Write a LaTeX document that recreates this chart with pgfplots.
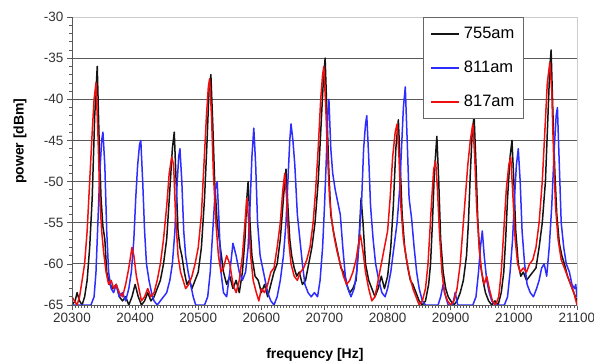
\documentclass[border=0pt]{standalone}
\usepackage{fontspec}
\setmainfont{Liberation Sans}
\usepackage{pgfplots}
\pgfplotsset{compat=1.18}
\definecolor{cblack}{RGB}{20,20,20}
\definecolor{cblue}{RGB}{45,45,255}
\definecolor{cred}{RGB}{240,15,15}
\begin{document}
\begin{tikzpicture}
\begin{axis}[
  at={(0,0)}, anchor=south west,
  scale only axis, width=505bp, height=288bp,
  xmin=20300, xmax=21100, ymin=-65, ymax=-30,
  xtick={20300,20400,...,21100},
  ytick={-65,-60,...,-30},
  scaled x ticks=false,
  minor x tick num=19,
  minor y tick num=4,
  xtick pos=bottom, ytick pos=left,
  tick align=outside,
  major tick length=5bp, minor tick length=2.5bp,
  every tick/.style={gray!70!black, line width=0.6bp},
  /pgf/number format/assume math mode=true,
  /pgf/number format/1000 sep={},
  tick label style={font=\fontsize{13.5bp}{15bp}\selectfont, text=black!80},
  ymajorgrids,
  major grid style={gray!70!black, line width=0.9bp},
  axis line style={gray!40, line width=0.8bp},
  xlabel={\textbf{frequency [Hz]}},
  ylabel={\textbf{power [dBm]}},
  label style={font=\fontsize{14bp}{16bp}\selectfont},
  xlabel style={at={(axis description cs:0.481,-0.174)}, anchor=center},
  ylabel style={at={(axis description cs:-0.103,0.569)}, anchor=center},
  legend style={at={(rel axis cs:0.695,1)}, anchor=north west, draw=gray!80!black,
    line width=0.8bp, fill=white, font=\fontsize{16.5bp}{18bp}\selectfont,
    inner xsep=7bp, inner ysep=8bp, row sep=17bp, column sep=2bp,
    nodes={inner sep=2bp}},
  legend cell align=left,
  legend image code/.code={\draw[#1, line width=1.6bp] (0bp,0bp) -- (28bp,0bp);},
  every axis plot/.append style={line width=1.5bp, line join=round},
]
\addplot[cblack] coordinates {
(20300,-65) (20305,-64.5) (20308,-63.5) (20312,-64.5) (20316,-65) (20320,-64) (20324,-62) (20328,-58)
(20332,-52) (20336,-42) (20340,-36) (20343,-45) (20346,-52) (20349,-55.5) (20352,-57) (20355,-61)
(20360,-62.5) (20365,-63) (20370,-62.5) (20375,-64) (20380,-64.5) (20385,-64) (20390,-65) (20395,-64)
(20400,-62.5) (20405,-64) (20410,-65) (20415,-64.5) (20420,-63.5) (20425,-64.5) (20430,-64) (20435,-63)
(20440,-62) (20445,-60) (20450,-57) (20455,-51) (20459,-46) (20462,-44) (20465,-50) (20468,-56)
(20471,-58) (20474,-59) (20478,-61) (20482,-62.5) (20486,-62) (20490,-63) (20495,-62) (20500,-61)
(20505,-58) (20510,-52) (20514,-45) (20517,-39) (20520,-37) (20523,-43) (20526,-50) (20530,-55)
(20535,-58) (20540,-61) (20545,-62.5) (20550,-61.5) (20555,-63) (20560,-62) (20565,-63.5) (20570,-61)
(20574,-57) (20577,-52) (20579,-50) (20582,-55) (20585,-59) (20590,-61.5) (20595,-62) (20600,-63.5)
(20605,-62.5) (20610,-64) (20615,-62.5) (20620,-61) (20625,-60) (20630,-57) (20634,-53) (20637,-50)
(20639,-48.5) (20642,-53) (20645,-57) (20648,-59) (20652,-60.5) (20656,-61.5) (20660,-61) (20665,-62.5)
(20670,-62) (20675,-60) (20680,-58) (20685,-55) (20690,-50) (20694,-44) (20698,-38) (20701,-35)
(20704,-42) (20707,-49) (20710,-54) (20714,-56) (20718,-57.5) (20722,-59) (20726,-60.5) (20730,-61)
(20735,-62.5) (20740,-63.5) (20745,-63) (20750,-62) (20754,-58) (20758,-52) (20761,-55) (20765,-60)
(20770,-62) (20775,-63) (20780,-64) (20785,-63) (20790,-61.5) (20795,-63) (20800,-61.5) (20805,-58)
(20809,-53) (20813,-46) (20817,-42.5) (20820,-48) (20823,-54) (20827,-58) (20832,-60.5) (20836,-62)
(20840,-62.5) (20845,-63.5) (20850,-64.5) (20855,-65) (20860,-64.5) (20865,-62.5) (20868,-60) (20871,-55)
(20874,-49) (20878,-44.5) (20881,-50) (20884,-57) (20888,-61) (20892,-63) (20896,-64) (20900,-64.5)
(20905,-65) (20910,-64.5) (20915,-63.5) (20920,-62) (20925,-59) (20928,-55) (20931,-49) (20934,-44)
(20937,-42) (20940,-48) (20943,-55) (20947,-60) (20951,-62) (20955,-63.5) (20960,-64.5) (20965,-65)
(20970,-64.5) (20975,-65) (20980,-63.5) (20984,-61) (20987,-57) (20990,-52) (20994,-47) (20997,-45)
(21000,-50) (21003,-56) (21007,-60) (21011,-61.5) (21015,-61) (21020,-62) (21025,-61.5) (21030,-61)
(21035,-60.5) (21040,-58) (21045,-55) (21050,-50) (21054,-42) (21057,-36) (21059,-34) (21062,-42)
(21065,-49) (21068,-54) (21072,-57.5) (21076,-59) (21080,-60) (21085,-61.5) (21090,-62.5) (21095,-63.5)
(21100,-64.5)
};
\addlegendentry{755am}
\addplot[cblue] coordinates {
(20300,-65) (20320,-65) (20330,-65) (20335,-64) (20338,-61) (20341,-55) (20344,-49) (20347,-45)
(20349,-44) (20352,-48) (20355,-56) (20358,-61) (20362,-63) (20366,-63.5) (20370,-62.5) (20375,-64)
(20380,-63.5) (20385,-64.5) (20390,-63) (20394,-61) (20398,-57) (20401,-52) (20404,-48) (20407,-45.5)
(20409,-45) (20412,-50) (20415,-56) (20418,-60) (20422,-62) (20426,-63.5) (20430,-64.5) (20435,-65)
(20440,-64.5) (20445,-64) (20450,-63.5) (20455,-62) (20459,-60) (20463,-56) (20466,-51) (20469,-47)
(20471,-46) (20474,-50) (20477,-56) (20480,-59) (20484,-61) (20488,-62.5) (20492,-64) (20496,-65)
(20500,-65) (20510,-65) (20515,-64) (20519,-61) (20523,-56) (20527,-51) (20530,-50) (20533,-55)
(20536,-61) (20540,-63.5) (20545,-64) (20550,-61) (20555,-57.5) (20560,-59) (20565,-61) (20570,-62)
(20575,-61) (20579,-58) (20582,-53) (20585,-47) (20588,-43.5) (20591,-48) (20594,-55) (20598,-59)
(20602,-60.5) (20606,-62) (20610,-63.5) (20615,-64.5) (20620,-65) (20625,-64) (20630,-62) (20635,-59)
(20639,-55) (20642,-50) (20645,-45) (20647,-43) (20650,-45) (20653,-48) (20657,-54) (20661,-57)
(20665,-60) (20669,-62.5) (20674,-63.5) (20679,-64) (20684,-63.5) (20689,-64) (20693,-62) (20697,-58)
(20700,-53) (20703,-47) (20705,-42) (20707,-40) (20710,-46) (20713,-49) (20717,-51) (20721,-52.5)
(20725,-54) (20729,-58) (20733,-61.5) (20737,-63) (20742,-64) (20747,-63) (20751,-61) (20755,-57)
(20759,-52) (20762,-46) (20765,-43) (20767,-42) (20770,-47) (20773,-53) (20777,-57) (20781,-60)
(20786,-62) (20791,-63.5) (20796,-64) (20800,-63) (20805,-61) (20810,-58) (20815,-55) (20819,-51)
(20822,-46) (20825,-41) (20828,-38.5) (20831,-45) (20834,-52) (20838,-54.5) (20842,-58) (20846,-61)
(20850,-63) (20855,-64.5) (20860,-65) (20870,-65) (20880,-65) (20884,-64) (20888,-62.5) (20892,-64)
(20896,-65) (20903,-65) (20907,-63.5) (20911,-65) (20920,-65) (20935,-65) (20940,-64) (20944,-61)
(20947,-58) (20950,-56) (20953,-59) (20957,-62) (20961,-63.5) (20965,-64.5) (20970,-65) (20985,-65)
(20990,-64) (20994,-61) (20998,-57) (21001,-52) (21004,-48) (21007,-46) (21010,-50) (21013,-56)
(21017,-60) (21021,-62.5) (21026,-63.5) (21031,-64) (21036,-63) (21040,-62) (21044,-60.5) (21048,-60)
(21052,-61.5) (21056,-58) (21060,-53) (21064,-46) (21067,-42) (21069,-41) (21072,-48) (21075,-55)
(21079,-58) (21083,-60) (21088,-61) (21092,-62.5) (21096,-63) (21098,-62.5) (21100,-64)
};
\addlegendentry{811am}
\addplot[cred] coordinates {
(20300,-64) (20304,-64.5) (20308,-65) (20312,-64) (20316,-62) (20320,-60) (20324,-56) (20328,-50)
(20332,-44) (20335,-40) (20338,-38) (20341,-44) (20344,-52) (20347,-56) (20350,-58.5) (20354,-61)
(20358,-62.5) (20362,-62) (20366,-63) (20370,-62.5) (20375,-63.5) (20380,-64) (20385,-62.5) (20390,-60.5)
(20395,-58) (20398,-59) (20402,-61.5) (20406,-63) (20410,-64.5) (20415,-64) (20420,-63) (20425,-64)
(20430,-63.5) (20435,-62) (20440,-60) (20445,-57) (20450,-53) (20454,-49) (20458,-47) (20461,-48)
(20464,-54) (20468,-59) (20472,-61) (20476,-62) (20480,-63) (20485,-62.5) (20490,-61.5) (20495,-60)
(20500,-58) (20505,-54) (20509,-48) (20513,-42) (20516,-38.5) (20518,-37.5) (20521,-42) (20524,-49)
(20528,-55) (20532,-59) (20536,-61) (20540,-60.5) (20545,-59) (20550,-60) (20555,-62.5) (20560,-63.5)
(20565,-62) (20570,-59) (20574,-55) (20577,-52) (20580,-55) (20583,-59) (20587,-62) (20592,-63.5)
(20596,-64.5) (20600,-63) (20605,-63.5) (20610,-62.5) (20615,-61) (20620,-60.5) (20625,-58) (20630,-55)
(20634,-51) (20637,-49) (20640,-52) (20643,-57) (20647,-60) (20652,-61.5) (20657,-62) (20662,-61)
(20667,-60.5) (20672,-59.5) (20677,-58) (20682,-55) (20686,-51) (20690,-46) (20694,-40) (20697,-37)
(20699,-36) (20702,-41) (20705,-47) (20708,-52) (20712,-55) (20716,-57) (20720,-58.5) (20725,-60)
(20730,-61.5) (20735,-62.5) (20740,-62) (20745,-61) (20750,-59.5) (20754,-57.5) (20757,-56.5) (20761,-58.5)
(20765,-61) (20770,-63) (20775,-64.5) (20780,-64) (20785,-62) (20790,-60) (20795,-58) (20800,-56)
(20804,-52) (20808,-47) (20812,-44) (20815,-43) (20818,-47) (20821,-53) (20825,-57) (20830,-59.5)
(20835,-61.5) (20840,-63) (20845,-64) (20850,-65) (20855,-64.5) (20860,-63) (20864,-60) (20867,-56)
(20870,-52) (20873,-48.5) (20876,-47.5) (20879,-51) (20882,-56) (20886,-61) (20890,-63.5) (20895,-64.5)
(20900,-65) (20905,-64.5) (20910,-63) (20915,-60) (20919,-56) (20923,-52) (20927,-48) (20931,-45)
(20935,-43) (20938,-47) (20941,-53) (20945,-58) (20949,-61) (20953,-62.5) (20957,-61.5) (20961,-63)
(20966,-64.5) (20971,-65) (20976,-64) (20980,-61) (20984,-56) (20988,-51) (20992,-48) (20995,-47)
(20998,-51) (21002,-57) (21006,-60) (21010,-61) (21015,-60.5) (21020,-61) (21025,-60) (21030,-59.5)
(21035,-58) (21040,-55) (21045,-50) (21049,-44) (21053,-38) (21057,-35.5) (21060,-39) (21063,-47)
(21066,-53) (21070,-57) (21075,-59.5) (21080,-60.5) (21085,-61.5) (21090,-62.5) (21095,-63.5) (21100,-65)
};
\addlegendentry{817am}
\draw[gray!70!black, line width=0.9bp] (rel axis cs:0,0) -- (rel axis cs:0,1);
\draw[gray!70!black, line width=0.9bp] (rel axis cs:0,0) -- (rel axis cs:1,0);
\end{axis}
\pgfresetboundingbox
\useasboundingbox (-72bp,-59bp) rectangle (522bp,305bp);
\end{tikzpicture}
\end{document}
